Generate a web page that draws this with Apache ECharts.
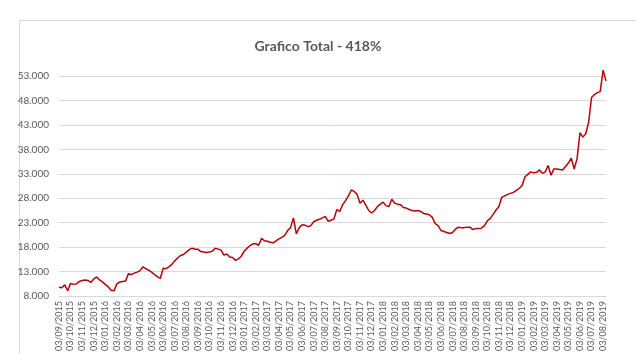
<!DOCTYPE html>
<html>
<head>
<meta charset="utf-8">
<script src="https://cdn.jsdelivr.net/npm/echarts@6/dist/echarts.min.js"></script>
<style>
  html, body { margin: 0; padding: 0; background: #fff; }
  #chart { width: 636px; height: 354px; }
</style>
</head>
<body>
<div id="chart"></div>
<script>
// month labels on the x axis
const monthLabels = [
  "03/09/2015", "03/10/2015", "03/11/2015", "03/12/2015",
  "03/01/2016", "03/02/2016", "03/03/2016", "03/04/2016", "03/05/2016", "03/06/2016",
  "03/07/2016", "03/08/2016", "03/09/2016", "03/10/2016", "03/11/2016", "03/12/2016",
  "03/01/2017", "03/02/2017", "03/03/2017", "03/04/2017", "03/05/2017", "03/06/2017",
  "03/07/2017", "03/08/2017", "03/09/2017", "03/10/2017", "03/11/2017", "03/12/2017",
  "03/01/2018", "03/02/2018", "03/03/2018", "03/04/2018", "03/05/2018", "03/06/2018",
  "03/07/2018", "03/08/2018", "03/09/2018", "03/10/2018", "03/11/2018", "03/12/2018",
  "03/01/2019", "03/02/2019", "03/03/2019", "03/04/2019", "03/05/2019", "03/06/2019",
  "03/07/2019", "03/08/2019"
];

// weekly values (x1000), one row per month
const weekly = [
  [9.8, 9.7, 10.3, 9.1],
  [10.6, 10.4, 10.5, 11.0],
  [11.2, 11.3, 11.2, 10.8],
  [11.5, 11.9, 11.3, 10.9],
  [10.4, 9.9, 9.2, 9.1],
  [10.5, 10.9, 11.0, 11.1],
  [12.6, 12.4, 12.7, 12.9],
  [13.2, 14.0, 13.6, 13.3],
  [12.9, 12.4, 12.0, 11.6],
  [13.7, 13.6, 14.0, 14.5],
  [15.2, 15.8, 16.3, 16.5],
  [17.0, 17.5, 17.8, 17.6],
  [17.6, 17.1, 17.0, 16.9],
  [17.0, 17.2, 17.8, 17.6],
  [17.4, 16.4, 16.6, 16.0],
  [15.9, 15.3, 15.6, 16.2],
  [17.2, 17.8, 18.3, 18.7],
  [18.7, 18.4, 19.8, 19.3],
  [19.2, 19.0, 18.9, 19.3],
  [19.7, 20.0, 20.4, 21.4],
  [22.0, 24.0, 20.7, 22.0],
  [22.6, 22.5, 22.2, 22.4],
  [23.2, 23.5, 23.7, 24.0],
  [24.3, 23.3, 23.5, 23.8],
  [25.7, 25.3, 26.7, 27.5],
  [28.5, 29.7, 29.4, 28.8],
  [27.0, 27.6, 26.6, 25.5],
  [25.0, 25.5, 26.3, 26.8],
  [27.2, 26.5, 26.3, 27.8],
  [27.0, 26.8, 26.7, 26.1],
  [26.0, 25.7, 25.5, 25.4],
  [25.5, 25.3, 24.9, 24.8],
  [24.6, 24.1, 22.8, 22.4],
  [21.4, 21.2, 21.0, 20.8],
  [21.0, 21.7, 22.1, 22.0],
  [22.0, 22.1, 22.1, 21.6],
  [21.8, 21.8, 21.9, 22.4],
  [23.4, 23.9, 24.7, 25.6],
  [26.3, 28.2, 28.5, 28.8],
  [29.0, 29.2, 29.6, 30.0],
  [30.6, 32.4, 32.9, 33.4],
  [33.2, 33.3, 33.8, 33.1],
  [33.4, 34.7, 32.7, 34.0],
  [34.0, 33.9, 33.8, 34.5],
  [35.2, 36.2, 34.0, 36.1],
  [41.4, 40.5, 41.2, 43.5],
  [48.6, 49.2, 49.6, 49.8],
  [54.2, 52.0]
];

const yMin = 8000;
const yMax = 53000;
const yStep = 5000;

const categories = [];
const values = [];
weekly.forEach((week, m) => {
  week.forEach((v, k) => {
    categories.push(k === 0 ? monthLabels[m] : monthLabels[m] + "#" + k);
    values.push(Math.round(v * 1000));
  });
});

const chart = echarts.init(document.getElementById("chart"));
const textColor = "#595959";
const font = "Lato, 'Open Sans', sans-serif";

chart.setOption({
  animation: false,
  backgroundColor: "#fff",
  title: {
    text: "Grafico Total - 418%",
    left: "center",
    top: 34,
    textStyle: {
      color: textColor,
      fontSize: 14,
      fontWeight: 700,
      fontFamily: font,
    },
  },
  graphic: [
    {
      type: "rect",
      shape: { x: 19.5, y: 20.5, width: 700, height: 400 },
      style: { fill: "none", stroke: "#d9d9d9", lineWidth: 1 },
      silent: true,
    },
  ],
  grid: { left: 59, right: 30, top: 76, bottom: 55 },
  xAxis: {
    type: "category",
    data: categories,
    boundaryGap: false,
    axisLine: { lineStyle: { color: "#d9d9d9" } },
    axisTick: { show: false },
    axisLabel: {
      interval: (idx) => idx % 4 === 0,
      rotate: 90,
      color: textColor,
      fontSize: 9,
      fontFamily: font,
      margin: 5,
      formatter: (v) => v.split("#")[0],
    },
    splitLine: { show: false },
  },
  yAxis: {
    type: "value",
    min: yMin,
    max: yMax,
    interval: yStep,
    axisLine: { show: false },
    axisTick: { show: false },
    axisLabel: {
      color: textColor,
      fontSize: 10,
      fontFamily: font,
      margin: 10,
      formatter: (v) => {
        const t = Math.floor(v / 1000);
        const r = String(v % 1000).padStart(3, "0");
        return t + "." + r;
      },
    },
    splitLine: { lineStyle: { color: "#d9d9d9", width: 1 } },
  },
  series: [
    {
      type: "line",
      data: values,
      showSymbol: false,
      clip: false,
      lineStyle: { color: "#c00000", width: 1.5 },
      itemStyle: { color: "#c00000" },
    },
  ],
});
</script>
</body>
</html>
